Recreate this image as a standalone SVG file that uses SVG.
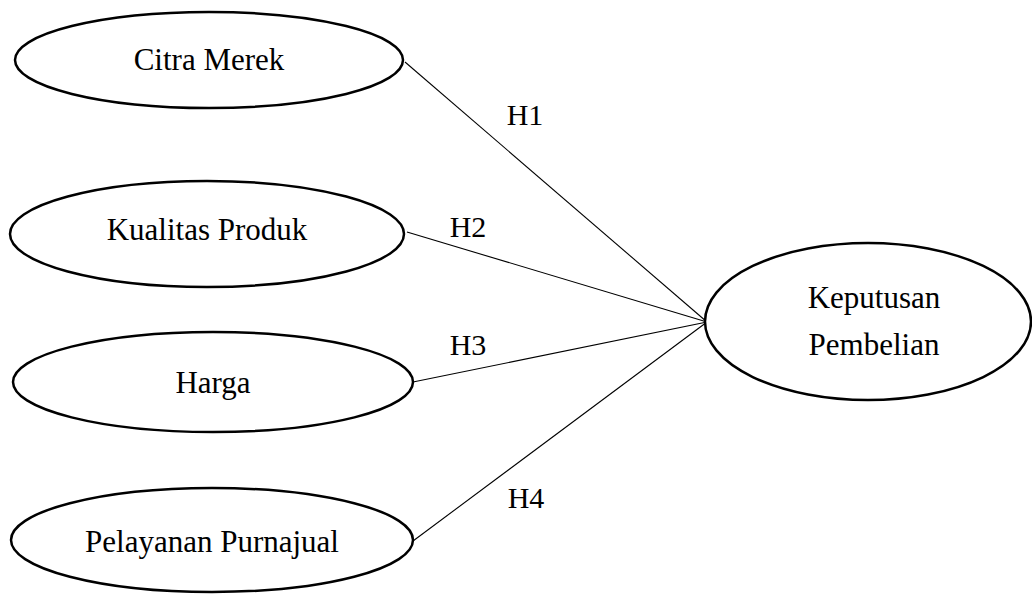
<svg xmlns="http://www.w3.org/2000/svg" width="1032" height="595" viewBox="0 0 1032 595">
<style>
.node ellipse{fill:#fff;stroke:#000;stroke-width:2.5}
text{font-family:"Liberation Serif","Times New Roman",serif;font-size:31px;fill:#000;text-anchor:middle}
.lbl{font-size:30px}
.edges line{stroke:#000;stroke-width:1.1}
</style>
<rect width="1032" height="595" fill="#fff"/>
<g class="edges" id="connectors">
<line x1="405" y1="62" x2="707" y2="322"/>
<line x1="407" y1="232" x2="707" y2="322"/>
<line x1="413" y1="382" x2="707" y2="322"/>
<line x1="413" y1="541" x2="707" y2="322"/>
<text class="lbl" x="525" y="125">H1</text>
<text class="lbl" x="468" y="237">H2</text>
<text class="lbl" x="468" y="355">H3</text>
<text class="lbl" x="526" y="508">H4</text>
</g>
<g class="node" id="citra-merek">
<ellipse cx="209" cy="60" rx="194" ry="48"/>
<text x="209" y="70">Citra Merek</text>
</g>
<g class="node" id="kualitas-produk">
<ellipse cx="207" cy="234" rx="197" ry="53"/>
<text x="207" y="240">Kualitas Produk</text>
</g>
<g class="node" id="harga">
<ellipse cx="213" cy="382" rx="200" ry="50"/>
<text x="213" y="393">Harga</text>
</g>
<g class="node" id="pelayanan-purnajual">
<ellipse cx="212" cy="540" rx="201" ry="52"/>
<text x="212" y="552">Pelayanan Purnajual</text>
</g>
<g class="node" id="keputusan-pembelian">
<ellipse cx="868" cy="321.5" rx="163" ry="78.5"/>
<text x="874" y="308">Keputusan</text>
<text x="874" y="355">Pembelian</text>
</g>
</svg>
